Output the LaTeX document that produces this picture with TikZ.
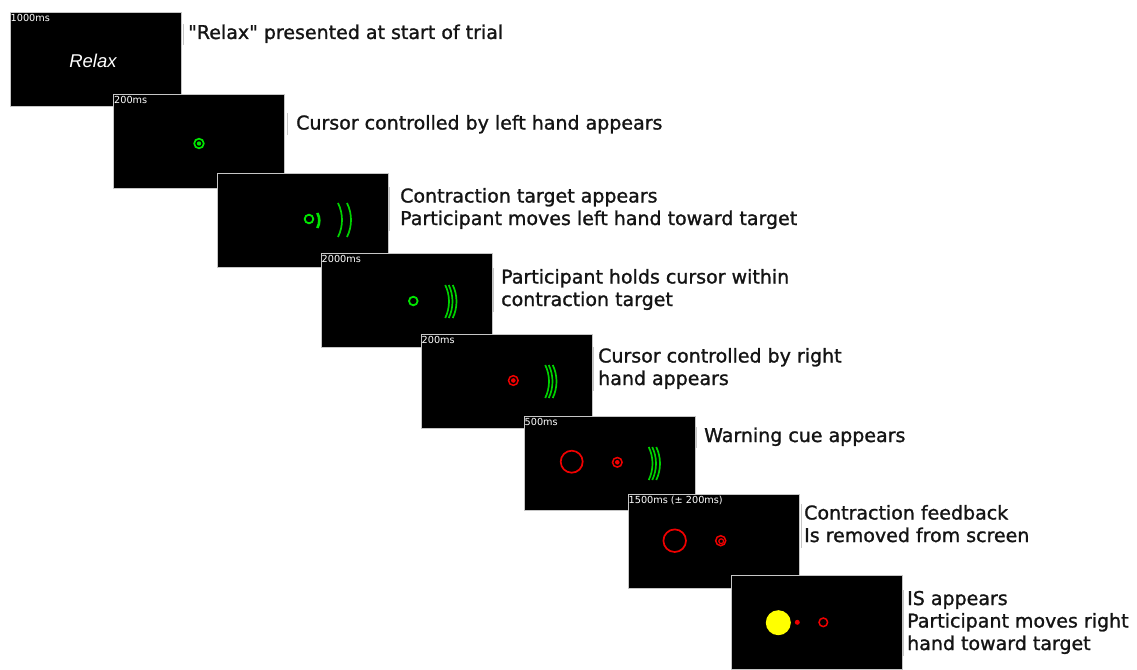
\documentclass[tikz,border=0pt]{standalone}
\usepackage{fontspec}
\setmainfont{DejaVu Sans}
\newfontfamily\capfont{DejaVu Sans}[FakeBold=1.2]
\newfontfamily\lblfont{DejaVu Sans}
\newfontfamily\arialfont{Liberation Sans}
\usetikzlibrary{calc}
\definecolor{cgreen}{RGB}{0,230,0}
\definecolor{agreen}{RGB}{0,210,0}
\definecolor{cred}{RGB}{240,0,0}
\definecolor{cyel}{RGB}{255,255,0}
\newcommand{\garcm}[5]{\draw[garc,#5] ({#1-#3+#3*cos(#4)},{#2+#3*sin(#4)}) arc[start angle=#4, end angle=-#4, radius=#3];}
\begin{document}
\begin{tikzpicture}[x=1pt,y=-1pt,
  panel/.style={draw=gray!45, fill=black, line width=0.8pt, minimum width=171pt, minimum height=94.5pt, anchor=north west, inner sep=0pt, outer sep=0pt},
  timelbl/.style={text=white, font=\lblfont\fontsize{9.7}{11}\selectfont, anchor=base west, inner sep=0pt},
  capt/.style={font=\capfont\fontsize{19}{22.5}\selectfont, anchor=base west, inner sep=0pt, text=black!92},
  edgeline/.style={draw=gray!45, line width=1pt},
  garc/.style={draw=agreen, line width=1.7pt},
  gring/.style={draw=cgreen, line width=1.7pt},
  rring/.style={draw=cred, line width=1.5pt},
  gdot/.style={fill=cgreen},
  rdot/.style={fill=cred}]
\useasboundingbox[fill=white] (0,0) rectangle (1137,669);

% Panel 1
\node[panel] (p1) at (10,12) {};
\node[timelbl] (t1) at (10.5,21.5) {1000ms};
\node[text=white, font=\arialfont\itshape\fontsize{18.5}{20}\selectfont, anchor=base, inner sep=0pt] (relax) at (93,67) {Relax};
\draw[edgeline] (183,24) -- (183,45);
\node[capt] (c1) at (188,39) {"Relax" presented at start of trial};

% Panel 2
\node[panel] (p2) at (113.5,94) {};
\node[timelbl] (t2) at (114,103.5) {200ms};
\begin{scope}[shift={(p2.north west)}]
  \draw[gring] (85.5,49.5) circle[radius=4.8];
  \fill[gdot] (85.5,49.5) circle[radius=2.2];
\end{scope}
\draw[edgeline] (287,113) -- (287,135);
\node[capt] (c2) at (296,129.5) {Cursor controlled by left hand appears};

% Panel 3
\node[panel] (p3) at (217,173) {};
\begin{scope}[shift={(p3.north west)}]
  \draw[gring, line width=1.8pt] (92,46) circle[radius=4.3];
  \garcm{102.3}{47.5}{15}{30}{draw=cgreen, line width=2.6pt}
  \garcm{125}{47}{38}{26.6}{}
  \garcm{134}{47}{38}{26.6}{}
\end{scope}
\draw[edgeline] (389.5,187) -- (389.5,231);
\node[capt] (c3a) at (400,202.5) {Contraction target appears};
\node[capt] (c3b) at (400,225) {Participant moves left hand toward target};

% Panel 4
\node[panel] (p4) at (321,253) {};
\node[timelbl] (t4) at (321.5,262.5) {2000ms};
\begin{scope}[shift={(p4.north west)}]
  \draw[gring, line width=1.8pt] (92.3,48) circle[radius=4.3];
  \garcm{128}{48.5}{38}{25.7}{}
  \garcm{131.5}{48.5}{38}{25.7}{}
  \garcm{135.5}{48.5}{38}{25.7}{}
\end{scope}
\draw[edgeline] (493.5,268) -- (493.5,312);
\node[capt] (c4a) at (501,283.5) {Participant holds cursor within};
\node[capt] (c4b) at (501,306) {contraction target};

% Panel 5
\node[panel] (p5) at (421,334) {};
\node[timelbl] (t5) at (421.5,343.5) {200ms};
\begin{scope}[shift={(p5.north west)}]
  \draw[rring] (92.3,46.5) circle[radius=4.8];
  \fill[rdot] (92.3,46.5) circle[radius=2.3];
  \garcm{128}{47.5}{38}{25.7}{}
  \garcm{131.5}{47.5}{38}{25.7}{}
  \garcm{135.5}{47.5}{38}{25.7}{}
\end{scope}
\draw[edgeline] (593.5,347) -- (593.5,391);
\node[capt] (c5a) at (598,362.5) {Cursor controlled by right};
\node[capt] (c5b) at (598,385) {hand appears};

% Panel 6
\node[panel] (p6) at (524,416) {};
\node[timelbl] (t6) at (524.5,425.5) {500ms};
\begin{scope}[shift={(p6.north west)}]
  \draw[rring, line width=1.7pt] (47.7,45.7) circle[radius=11];
  \draw[rring] (93.3,46.3) circle[radius=4.8];
  \fill[rdot] (93.3,46.3) circle[radius=2.3];
  \garcm{128.5}{47.5}{38}{25.7}{}
  \garcm{132}{47.5}{38}{25.7}{}
  \garcm{136}{47.5}{38}{25.7}{}
\end{scope}
\draw[edgeline] (696.5,427) -- (696.5,448);
\node[capt] (c6) at (704,442) {Warning cue appears};

% Panel 7
\node[panel] (p7) at (628,494) {};
\node[timelbl] (t7) at (628.5,503.5) {1500ms (± 200ms)};
\begin{scope}[shift={(p7.north west)}]
  \draw[rring, line width=1.7pt] (46.7,46.7) circle[radius=11.3];
  \draw[rring] (92.7,46.7) circle[radius=5];
  \draw[rring, line width=1.2pt] (93.2,47.2) circle[radius=2.4];
\end{scope}
\draw[edgeline] (801.5,504) -- (801.5,548);
\node[capt] (c7a) at (804,519.5) {Contraction feedback};
\node[capt] (c7b) at (804,542) {Is removed from screen};

% Panel 8
\node[panel] (p8) at (731,575) {};
\begin{scope}[shift={(p8.north west)}]
  \fill[cyel] (47.3,47.7) circle[radius=12.5];
  \fill[rdot] (66.3,47.3) circle[radius=2.5];
  \draw[rring] (92.3,47.3) circle[radius=4.3];
\end{scope}
\draw[edgeline] (903.5,590) -- (903.5,656);
\node[capt] (c8a) at (907,605) {IS appears};
\node[capt] (c8b) at (907,627.5) {Participant moves right};
\node[capt] (c8c) at (907,650) {hand toward target};
\end{tikzpicture}
\end{document}
